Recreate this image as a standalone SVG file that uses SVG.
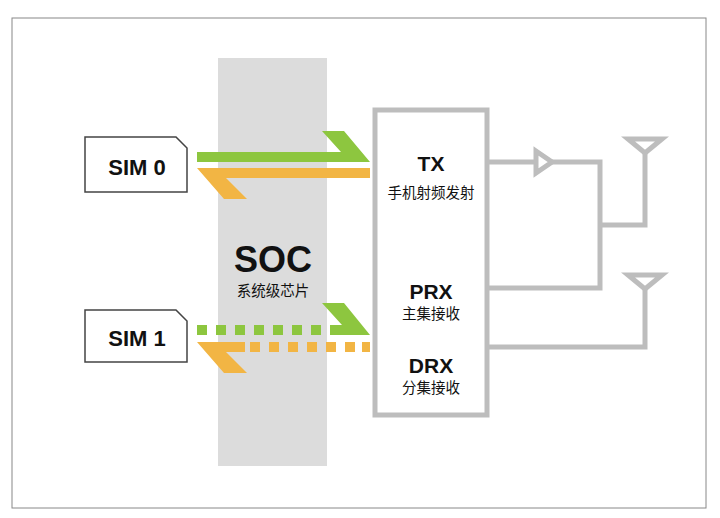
<svg xmlns="http://www.w3.org/2000/svg" width="720" height="518" viewBox="0 0 720 518">
<style>
.ln{fill:none;stroke:#bdbdbd;stroke-width:5}
.card{fill:#fff;stroke:#444;stroke-width:1.5}
.g{fill:#8dc63f}.o{fill:#f2b544}
.lb{font-family:"Liberation Sans",Arial,sans-serif;font-weight:bold;fill:#111;text-anchor:middle}
.cn{font-family:"Noto Sans CJK SC",sans-serif;fill:#111;text-anchor:middle;font-size:14.5px}
</style>
<rect x="0" y="0" width="720" height="518" fill="#fff"/>
<rect x="12" y="18" width="694" height="490" fill="none" stroke="#888" stroke-width="1"/>
<g id="soc"><rect x="218" y="58" width="109" height="408" fill="#dcdcdc"/>
<text class="lb" x="273" y="272" font-size="36">SOC</text>
<text class="cn" x="273" y="296" font-size="13">系统级芯片</text></g>
<g id="sim0"><path class="card" d="M85,137H176L187,148V192H85Z"/><text class="lb" x="137" y="175" font-size="22">SIM 0</text></g>
<g id="sim1"><path class="card" d="M85,310H176L187,321V362H85Z"/><text class="lb" x="137" y="346" font-size="22">SIM 1</text></g>
<g id="rf"><rect class="ln" x="375" y="110" width="112" height="305"/>
<text class="lb" x="431" y="171" font-size="21">TX</text><text class="cn" x="431" y="198">手机射频发射</text>
<text class="lb" x="431" y="299" font-size="21">PRX</text><text class="cn" x="431" y="319">主集接收</text>
<text class="lb" x="431" y="373" font-size="21">DRX</text><text class="cn" x="431" y="393">分集接收</text></g>
<g id="ant1"><path class="ln" d="M628,139H662L645,153Z" stroke-width="4"/></g>
<g id="ant2"><path class="ln" d="M628,275H662L645,289Z" stroke-width="4"/></g>
<g id="amp"><path class="ln" d="M536,151L552,162L536,173Z" stroke-width="4"/></g>
<g id="connectors">
<path class="ln" d="M487,162H536M552,162H600V288H487M600,225H645V153M645,289V347H487"/>
<path class="g" d="M197,152H341L322,131H344L370,162H197Z"/>
<path class="o" d="M370,168V178H226L247,199H224L197,168Z"/>
<g class="g"><rect x="197" y="325" width="10" height="10"/><rect x="216" y="325" width="10" height="10"/><rect x="235" y="325" width="10" height="10"/><rect x="254" y="325" width="10" height="10"/><rect x="273" y="325" width="10" height="10"/><rect x="292" y="325" width="10" height="10"/><rect x="311" y="325" width="10" height="10"/>
<path d="M330,325H342L322,303H344L370,335H330Z"/></g>
<g class="o"><path d="M197,342H245V352H226L247,373H224Z"/><rect x="250" y="342" width="10" height="10"/><rect x="269" y="342" width="10" height="10"/><rect x="288" y="342" width="10" height="10"/><rect x="307" y="342" width="10" height="10"/><rect x="326" y="342" width="10" height="10"/><rect x="345" y="342" width="10" height="10"/><rect x="362" y="342" width="8" height="10"/></g>
</g>
</svg>
